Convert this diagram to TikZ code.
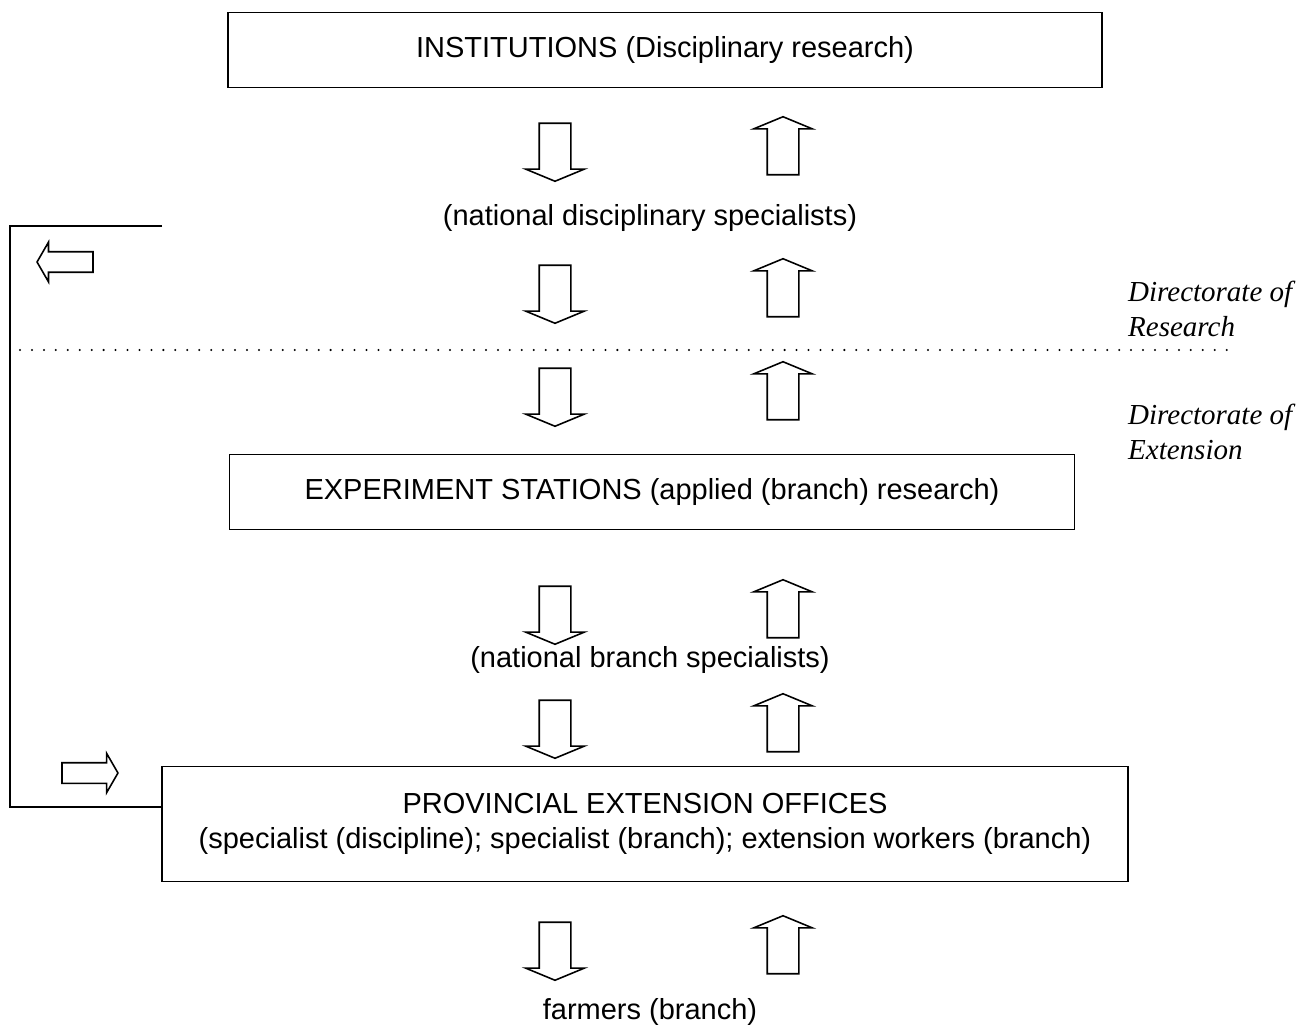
\documentclass[tikz,border=0pt]{standalone}
\usepackage{fontspec}
\setmainfont{Liberation Sans}
\newfontfamily\dirfont{Liberation Serif}
\usepackage{tikz}
\usetikzlibrary{arrows.meta, positioning, shapes.arrows}

\begin{document}
\begin{tikzpicture}[
      x=0.02cm, y=-0.02cm,
      every node/.style={font=\fontsize{16.5}{19.5}\selectfont},
      levelbox/.style={draw, line width=1pt, align=center},
      blockarrow/.style={single arrow, draw, line width=0.9pt, inner sep=0.3cm,
        minimum height=1.16cm, single arrow head extend=0.27cm,
        single arrow tip angle=135},
      sidearrow/.style={single arrow, draw, line width=0.9pt, inner sep=0.19cm,
        minimum height=1.12cm, single arrow head extend=0.19cm,
        single arrow tip angle=120},
      dirlabel/.style={font=\dirfont\itshape\fontsize{16.5}{19.5}\selectfont, align=left, anchor=west}
    ]
      \useasboundingbox (0,0) rectangle (1309,1027);

      % levels
      \node[levelbox, minimum width=17.48cm, minimum height=1.5cm] (inst) at (665,50)
        {INSTITUTIONS (Disciplinary research)};
      \node (natdisc) at (650,218) {(national disciplinary specialists)};
      \node[levelbox, minimum width=16.9cm, minimum height=1.5cm] (exp) at (652,492)
        {EXPERIMENT STATIONS (applied (branch) research)};
      \node (natbranch) at (650,660) {(national branch specialists)};
      \node[levelbox, minimum width=19.32cm, minimum height=2.3cm] (prov) at (645,824)
        {PROVINCIAL EXTENSION OFFICES\\
         (specialist (discipline); specialist (branch); extension workers (branch)};
      \node (farmers) at (650,1012) {farmers (branch)};

      % down and up arrows
      \foreach \y [count=\i] in {149,291,394,612,726,948} {
        \node[blockarrow, rotate=-90] (down\i) at (555,\y) {};
        \node[blockarrow, rotate=90] (up\i) at (783,\y) {};
      }

      % directorates
      \draw[line width=1.3pt, line cap=round, dash pattern=on 0pt off 6.8pt] (20,350) -- (1230,350);
      \node[dirlabel] (dirres) at (1122,309) {Directorate of\\Research};
      \node[dirlabel] (dirext) at (1122,432) {Directorate of\\Extension};

      % feedback loop on the left
      \coordinate (fbtop) at (162,226);
      \coordinate (fbbot) at (10,807);
      \draw[line width=1pt] (fbtop) -| (fbbot) -- (fbbot -| prov.west);
      \node[sidearrow, rotate=180] (fbleft) at (68,262) {};
      \node[sidearrow] (fbright) at (87,773) {};
    \end{tikzpicture}
\end{document}
